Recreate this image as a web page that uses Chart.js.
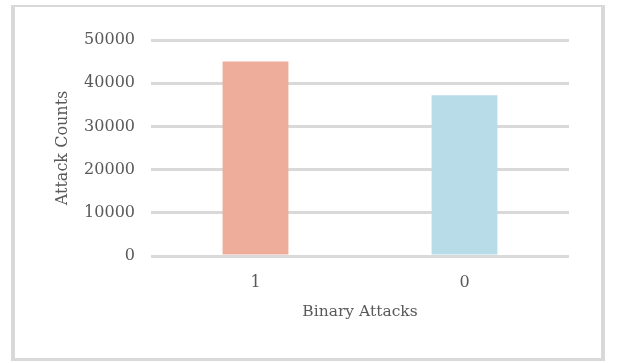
<!DOCTYPE html>
<html>
<head>
<meta charset="utf-8">
<script src="https://cdn.jsdelivr.net/npm/chart.js@4"></script>
<style>
  html, body { margin: 0; padding: 0; background: #fff; }
  #wrap { width: 622px; height: 363px; }
</style>
</head>
<body>
<div id="wrap"><canvas id="myChart" width="622" height="363"></canvas></div>
<script>
const ctx = document.getElementById('myChart');

const categories = ['1', '0'];
const attackCounts = [45000, 37200];
const barColors = ['#EEAD9A', '#B8DDE8'];
const yTicks = [0, 10000, 20000, 30000, 40000, 50000];

// light grey frame round the whole chart
const frame = {
    id: 'frame',
    beforeDraw(chart) {
        const c = chart.ctx;
        c.save();
        c.fillStyle = '#ffffff';
        c.fillRect(0, 0, chart.width, chart.height);
        c.fillStyle = '#d9d9d9';
        c.fillRect(11, 5, 594, 2);    // top
        c.fillRect(11, 358, 594, 3);  // bottom
        c.fillRect(11, 5, 4, 356);    // left
        c.fillRect(601, 5, 4, 356);   // right
        c.restore();
    }
};

new Chart(ctx, {
    type: 'bar',
    data: {
        labels: categories,
        datasets: [{
            label: 'Attack Counts',
            data: attackCounts,
            backgroundColor: barColors,
            borderWidth: 0,
            barPercentage: 0.63,
            categoryPercentage: 0.5
        }]
    },
    plugins: [frame],
    options: {
        responsive: false,
        animation: false,
        layout: { padding: { left: 0, right: 53, top: 40, bottom: 0 } },
        plugins: {
            legend: { display: false },
            tooltip: { enabled: false }
        },
        scales: {
            x: {
                grid: { display: false },
                border: { display: false },
                ticks: {
                    color: '#595959',
                    font: { family: 'DejaVu Serif', size: 16 },
                    padding: 9
                },
                title: {
                    display: true,
                    text: 'Binary Attacks',
                    color: '#595959',
                    font: { family: 'DejaVu Serif', size: 15.5 },
                    padding: { top: 0, bottom: 42 }
                },
                afterFit: s => { s.height = 107; }
            },
            y: {
                min: 0,
                max: 50000,
                afterBuildTicks: s => { s.ticks = yTicks.map(v => ({ value: v })); },
                grid: { color: '#d9d9d9', lineWidth: 3, drawTicks: false },
                border: { display: false },
                ticks: {
                    color: '#595959',
                    font: { family: 'DejaVu Serif', size: 16 },
                    padding: 16,
                    callback: v => String(v)
                },
                title: {
                    display: true,
                    text: 'Attack Counts',
                    color: '#595959',
                    font: { family: 'DejaVu Serif', size: 16 },
                    padding: { top: 53, bottom: 0 }
                },
                afterFit: s => { s.width = 151; }
            }
        }
    }
});
</script>
</body>
</html>
